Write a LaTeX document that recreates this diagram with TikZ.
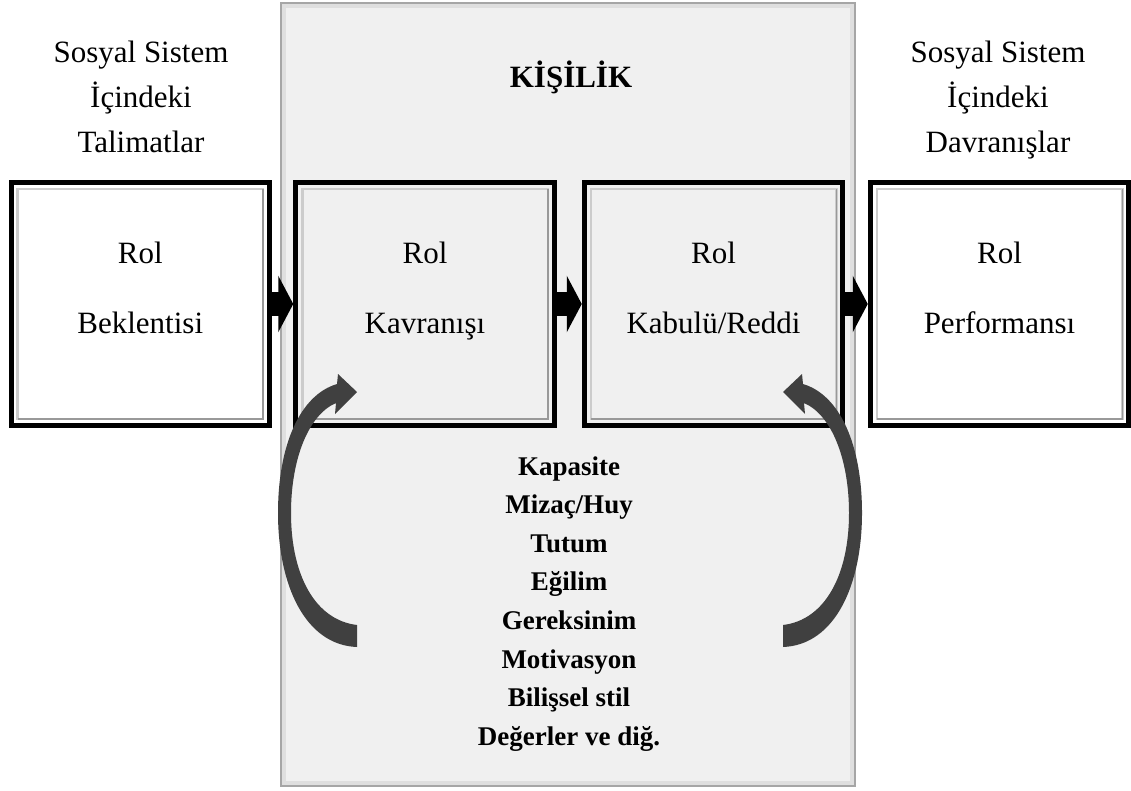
\documentclass[tikz,border=0pt]{standalone}
\usepackage{fontspec}
\setmainfont{Liberation Serif}
\usetikzlibrary{arrows.meta}

\definecolor{kisibg}{HTML}{F0F0F0}
\definecolor{okgri}{HTML}{404040}

\tikzset{
    kisikutu/.style={draw=gray!70, line width=2pt, fill=kisibg, minimum width=574, minimum height=783, inner sep=0pt},
    rolkutu/.style={draw=black, line width=5pt, minimum width=258.5, minimum height=243, inner sep=0pt},
    bevel/.style={draw=gray!40, line width=2.5pt},
    golge/.style={draw=gray!80, line width=1.5pt},
    blokok/.style={black, line width=24pt, -{Triangle[width=56pt,length=15pt]}},
    duz/.style={font=\fontsize{31}{37}\selectfont, anchor=base, inner sep=0pt},
    kalin/.style={font=\fontsize{27}{32}\selectfont\bfseries, anchor=base, inner sep=0pt},
    kavisok/.pic={
        \fill[okgri] (357,647) .. controls (305,645) and (278,585) .. (278,513)
            .. controls (278,445) and (300,395) .. (337,384) -- (338,374) -- (357,392)
            -- (335,414) -- (336,403) .. controls (308,415) and (291,460) .. (291,513)
            .. controls (291,575) and (315,620) .. (357,625) -- cycle;
    }
}

\begin{document}
\begin{tikzpicture}[x=1pt, y=-1pt]
        \useasboundingbox (0,0) rectangle (1131,790);

        % kisilik
        \node[kisikutu] (kis) at (568,394.5) {};
        \draw[gray!25, line width=4pt] ([shift={(4,4)}]kis.north west) rectangle ([shift={(-4,-4)}]kis.south east);
        \node[duz, font=\fontsize{31}{37}\selectfont\bfseries] (kisad) at (571,87) {KİŞİLİK};

        % kutular
        \node[rolkutu] (bek) at (140.25,304) {};
        \node[rolkutu] (kav) at (425,304) {};
        \node[rolkutu] (kab) at (713.5,304) {};
        \node[rolkutu] (per) at (999.5,304) {};

        \draw[bevel] ([shift={(9,9)}]bek.north west) rectangle ([shift={(-9,-9)}]bek.south east);
        \draw[golge] ([shift={(-9,9)}]bek.north east) -- ([shift={(-9,-9)}]bek.south east) -- ([shift={(9,-9)}]bek.south west);
        \draw[bevel] ([shift={(9,9)}]kav.north west) rectangle ([shift={(-9,-9)}]kav.south east);
        \draw[golge] ([shift={(-9,9)}]kav.north east) -- ([shift={(-9,-9)}]kav.south east) -- ([shift={(9,-9)}]kav.south west);
        \draw[bevel] ([shift={(9,9)}]kab.north west) rectangle ([shift={(-9,-9)}]kab.south east);
        \draw[golge] ([shift={(-9,9)}]kab.north east) -- ([shift={(-9,-9)}]kab.south east) -- ([shift={(9,-9)}]kab.south west);
        \draw[bevel] ([shift={(9,9)}]per.north west) rectangle ([shift={(-9,-9)}]per.south east);
        \draw[golge] ([shift={(-9,9)}]per.north east) -- ([shift={(-9,-9)}]per.south east) -- ([shift={(9,-9)}]per.south west);

        \node[duz] (bek1) at (140.25,263) {Rol};
        \node[duz] (bek2) at (140.25,333) {Beklentisi};
        \node[duz] (kav1) at (425,263) {Rol};
        \node[duz] (kav2) at (425,333) {Kavranışı};
        \node[duz] (kab1) at (713.5,263) {Rol};
        \node[duz] (kab2) at (713.5,333) {Kabulü/Reddi};
        \node[duz] (per1) at (999.5,263) {Rol};
        \node[duz] (per2) at (999.5,333) {Performansı};

        % oklar
        \draw[blokok] (bek) -- (kav);
        \draw[blokok] (kav) -- (kab);
        \draw[blokok] (kab) -- (per);

        \pic at (0,0) {kavisok};
        \pic[xscale=-1] at (1140,0) {kavisok};

        % dis metinler
        \node[duz] (sol1) at (141,62) {Sosyal Sistem};
        \node[duz] (sol2) at (141,107) {İçindeki};
        \node[duz] (sol3) at (141,152) {Talimatlar};
        \node[duz] (sag1) at (998,62) {Sosyal Sistem};
        \node[duz] (sag2) at (998,107) {İçindeki};
        \node[duz] (sag3) at (998,152) {Davranışlar};

        % ozellikler
        \node[kalin] (oz1) at (569,475) {Kapasite};
        \node[kalin] (oz2) at (569,513.6) {Mizaç/Huy};
        \node[kalin] (oz3) at (569,552.2) {Tutum};
        \node[kalin] (oz4) at (569,590.8) {Eğilim};
        \node[kalin] (oz5) at (569,629.4) {Gereksinim};
        \node[kalin] (oz6) at (569,668) {Motivasyon};
        \node[kalin] (oz7) at (569,706.6) {Bilişsel stil};
        \node[kalin] (oz8) at (569,745.2) {Değerler ve diğ.};
\end{tikzpicture}
\end{document}
